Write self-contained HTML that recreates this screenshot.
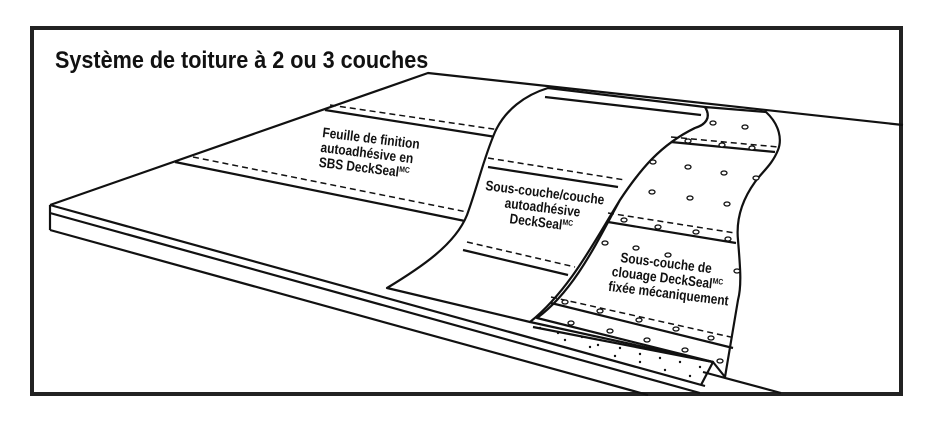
<!DOCTYPE html>
<html><head><meta charset="utf-8"><style>
html,body{margin:0;padding:0;background:#fff;}
svg{display:block;}
text{font-family:"Liberation Sans",sans-serif;font-weight:bold;fill:#111;}
</style></head><body>
<svg width="936" height="428" viewBox="0 0 936 428" xmlns="http://www.w3.org/2000/svg">
<rect x="32" y="28" width="869" height="366" fill="#fff" stroke="#222" stroke-width="4"/>
<text x="55" y="68" font-size="24" transform="translate(55,0) scale(0.9,1) translate(-55,0)">Système de toiture à 2 ou 3 couches</text>
<g fill="none" stroke="#111" stroke-width="2.2" stroke-linejoin="round">
<polyline points="50,205 428,73 903,125"/>
<line x1="50" y1="205" x2="705" y2="386"/>
<line x1="50" y1="213" x2="700" y2="393"/>
<line x1="50" y1="230" x2="648" y2="395"/>
<line x1="50" y1="205" x2="50" y2="230"/>
<line x1="703" y1="372" x2="781" y2="393"/>
<line x1="325" y1="110" x2="496" y2="137"/>
<line x1="175" y1="162" x2="465" y2="221"/>
</g>
<g fill="none" stroke="#111" stroke-width="1.5" stroke-dasharray="6,4">
<line x1="330" y1="105" x2="500" y2="130"/>
<line x1="193" y1="157" x2="467" y2="212"/>
</g>
<!-- underlay strip -->
<path d="M387,288 C420,268 455,245 467,215 C478,185 483,160 495,132 C505,110 525,95 548,88 L705,107 C712,118 705,125 695,128 C660,145 640,170 620,200 C595,240 570,290 530,322 Z" fill="#fff" stroke="#111" stroke-width="2.2" stroke-linejoin="round"/>
<g fill="none" stroke="#111" stroke-width="2.2">
<line x1="545" y1="97" x2="701" y2="115"/>
<line x1="488" y1="167" x2="618" y2="187"/>
<line x1="463" y1="250" x2="568" y2="275"/>
</g>
<g fill="none" stroke="#111" stroke-width="1.5" stroke-dasharray="6,4">
<line x1="488" y1="158" x2="625" y2="180"/>
<line x1="467" y1="242" x2="575" y2="267"/>
</g>
<!-- nailing sheet -->
<path d="M705,107 L766,112 C780,125 782,140 778,150 C772,165 762,172 755,182 C742,200 736,220 738,240 C740,265 742,285 738,300 C733,330 728,360 725,377 L713,362 L537,318 C575,290 598,240 620,200 C640,170 660,145 695,128 C705,125 712,118 705,107 Z" fill="#fff" stroke="#111" stroke-width="2.2" stroke-linejoin="round"/>
<g fill="none" stroke="#111" stroke-width="2.2" stroke-linejoin="round">
<line x1="671" y1="142" x2="775" y2="152"/>
<line x1="608" y1="222" x2="736" y2="243"/>
<line x1="551" y1="303" x2="733" y2="348"/>
<polyline points="533,327 713,362 701,385"/>
<line x1="530" y1="322" x2="713" y2="362"/>
</g>
<g fill="none" stroke="#111" stroke-width="1.5" stroke-dasharray="6,4">
<line x1="671" y1="137" x2="778" y2="147"/>
<line x1="608" y1="213" x2="735" y2="233"/>
<line x1="551" y1="297" x2="735" y2="338"/>
</g>
<g fill="#fff" stroke="#111" stroke-width="1.3">
<ellipse cx="713" cy="123" rx="3" ry="2"/><ellipse cx="745" cy="127" rx="3" ry="2"/>
<ellipse cx="688" cy="141" rx="3" ry="2"/><ellipse cx="722" cy="145" rx="3" ry="2"/><ellipse cx="752" cy="148" rx="3" ry="2"/>
<ellipse cx="653" cy="162" rx="3" ry="2"/><ellipse cx="688" cy="167" rx="3" ry="2"/><ellipse cx="724" cy="173" rx="3" ry="2"/><ellipse cx="756" cy="178" rx="3" ry="2"/>
<ellipse cx="652" cy="192" rx="3" ry="2"/><ellipse cx="690" cy="198" rx="3" ry="2"/><ellipse cx="727" cy="204" rx="3" ry="2"/>
<ellipse cx="624" cy="220" rx="3" ry="2"/><ellipse cx="658" cy="227" rx="3" ry="2"/><ellipse cx="696" cy="232" rx="3" ry="2"/><ellipse cx="728" cy="239" rx="3" ry="2"/>
<ellipse cx="605" cy="243" rx="3" ry="2"/><ellipse cx="636" cy="248" rx="3" ry="2"/><ellipse cx="668" cy="255" rx="3" ry="2"/><ellipse cx="737" cy="271" rx="3" ry="2"/>
<ellipse cx="565" cy="302" rx="3" ry="2"/><ellipse cx="600" cy="311" rx="3" ry="2"/><ellipse cx="639" cy="320" rx="3" ry="2"/><ellipse cx="676" cy="329" rx="3" ry="2"/><ellipse cx="711" cy="338" rx="3" ry="2"/>
<ellipse cx="571" cy="323" rx="3" ry="2"/><ellipse cx="610" cy="331" rx="3" ry="2"/><ellipse cx="647" cy="340" rx="3" ry="2"/><ellipse cx="685" cy="350" rx="3" ry="2"/><ellipse cx="720" cy="361" rx="3" ry="2"/>
</g>
<g fill="#111">
<circle cx="540" cy="328" r="1.2"/><circle cx="558" cy="333" r="1.2"/><circle cx="582" cy="337" r="1.2"/><circle cx="598" cy="345" r="1.2"/><circle cx="620" cy="348" r="1.2"/><circle cx="640" cy="354" r="1.2"/><circle cx="660" cy="358" r="1.2"/><circle cx="680" cy="362" r="1.2"/><circle cx="700" cy="367" r="1.2"/>
<circle cx="565" cy="340" r="1.2"/><circle cx="590" cy="347" r="1.2"/><circle cx="615" cy="356" r="1.2"/><circle cx="640" cy="362" r="1.2"/><circle cx="665" cy="370" r="1.2"/><circle cx="690" cy="376" r="1.2"/>
</g>
<g font-size="14">
<g transform="translate(322,137) rotate(7) scale(0.85,1)">
<text x="0" y="0">Feuille de finition</text>
<text x="0" y="15">autoadhésive en</text>
<text x="0" y="30">SBS DeckSeal<tspan font-size="8" dy="-5">MC</tspan></text>
</g>
<g transform="translate(485,190) rotate(7) scale(0.85,1)">
<text x="0" y="0">Sous-couche/couche</text>
<text x="25" y="15">autoadhésive</text>
<text x="33" y="30">DeckSeal<tspan font-size="8" dy="-5">MC</tspan></text>
</g>
<g transform="translate(620,262) rotate(7) scale(0.85,1)">
<text x="0" y="0">Sous-couche de</text>
<text x="-8" y="15">clouage DeckSeal<tspan font-size="8" dy="-5">MC</tspan></text>
<text x="-10" y="30">fixée mécaniquement</text>
</g>
</g>
</svg>
</body></html>
